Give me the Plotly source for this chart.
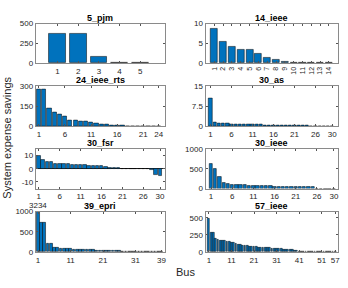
import plotly.graph_objects as go
from plotly.subplots import make_subplots

titles = ["5_pjm", "14_ieee", "24_ieee_rts", "30_as", "30_fsr", "30_ieee", "39_epri", "57_ieee"]

pjm5 = [375, 370, 80, 0, 0]
ieee14 = [8.7, 5.4, 4.2, 3.4, 3.3, 2.4, 1.5, 0.8, 0.3, 0.1, 0, 0, 0, 0]
rts24 = [280, 275, 135, 100, 85, 70, 45, 40, 33, 32, 28, 18, 14, 12, 5, 3, 2, 1,
         0, 0, 0, 0, 0, 0]
as30 = [10.5, 1.3, 1.1, 1.0, 0.9, 0.8, 0.7, 0.7, 0.6, 0.6, 0.55, 0.5, 0.5, 0.45,
        0.45, 0.4, 0.4, 0.35, 0.3, 0.3, 0.25, 0.2, 0.15, 0.1, 0.05, 0, 0, 0, 0, 0]
fsr30 = [10, 6.5, 5.5, 5, 4, 3.5, 3.5, 3.3, 3.2, 3.1, 3, 2.8, 2.5, 2.3, 2.2, 2,
         1.2, 1, 0.8, 0.3, 0.1, 0, 0, 0, 0, 0, 0, -1, -4.5, -5.5]
ieee30 = [620, 490, 290, 140, 130, 100, 95, 90, 85, 80, 75, 72, 70, 68, 60, 55,
          52, 50, 48, 45, 42, 40, 38, 35, 32, 0, 0, 0, 0, 0]
epri39 = [3234, 740, 720, 220, 210, 120, 110, 90, 85, 80, 75, 70, 68, 65, 60, 55,
          50, 48, 45, 42, 40, 38, 35, 32, 30, 25, 20, 15, 10, 5, 0, 0, 0, 0, 0, 0,
          0, 0, 0]
ieee57 = [490, 285, 280, 200, 180, 170, 165, 160, 150, 145, 140, 135, 125, 115,
          105, 95, 90, 88, 85, 80, 75, 72, 70, 68, 65, 62, 60, 57, 55, 52, 50, 48,
          45, 42, 40, 38, 35, 30, 25, 15, 10, 8, 6, 5, 4, 3, 2, 1, 0, 0, 0, 0, 0,
          0, 0, 0, 0]
series = [pjm5, ieee14, rts24, as30, fsr30, ieee30, epri39, ieee57]

xticks = [[1, 2, 3, 4, 5], list(range(1, 15)), [1, 6, 11, 16, 21, 24],
          [1, 6, 11, 16, 21, 26, 30], [1, 6, 11, 16, 21, 26, 30],
          [1, 6, 11, 16, 21, 26, 30], [1, 11, 21, 31, 39], [1, 11, 21, 31, 41, 51, 57]]
yticks = [[0, 250, 500], [0, 5, 10], [0, 150, 300], [0, 7.5, 15], [-10, 0, 10],
          [0, 500, 1000], [0, 500, 1000], [0, 250, 500]]
yticktext = [["0", "250", "500"], ["0", "5", "10"], ["0", "150", "300"],
             ["0", "7.5", "15"], ["-10", "0", "10"], ["0", "500", "1000"],
             ["0", "500", "1000"], ["0", "250", "500"]]
yranges = [[0, 500], [0, 10], [0, 300], [0, 15], [-15, 15], [0, 1000], [0, 1000], [0, 590]]
xranges = [[-0.05, 6.2], [0, 15], [0.4, 25.2], [-0.2, 31.3], [0.3, 31.2],
           [-0.3, 30.9], [0.3, 40.1], [-0.5, 58.1]]

W, H = 348, 288
colx = [(36, 166), (206.7, 339.7)]
rowy = [(20.3, 61), (85, 126), (149.5, 190.5), (214.3, 256)]

FONT = "Liberation Sans, Arial, sans-serif"
fig = make_subplots(rows=4, cols=2)
tickfont = dict(family=FONT, size=8, color="#262626")

for i, (vals, t) in enumerate(zip(series, titles)):
    r, c = i // 2, i % 2
    xs = list(range(1, len(vals) + 1))
    fig.add_trace(go.Bar(x=xs, y=vals, width=0.8,
                         marker=dict(color="#0072BD", line=dict(color="#000000", width=0.5)),
                         showlegend=False, hoverinfo="skip"), row=r + 1, col=c + 1)
    ax = "" if i == 0 else str(i + 1)
    x0, x1 = colx[c]
    top, bot = rowy[r]
    xf = dict(tickfont)
    if i == 1:
        xf["size"] = 7
    fig.layout["xaxis" + ax].update(
        domain=[x0 / W, x1 / W], range=xranges[i], tickmode="array",
        tickvals=xticks[i], ticktext=[str(v) for v in xticks[i]],
        ticks="inside", ticklen=2, tickcolor="#555", showline=True, linecolor="#8a8a8a",
        linewidth=1, mirror="ticks", showgrid=False, zeroline=False, tickfont=xf,
        tickangle=-90 if i == 1 else 0, ticklabelstandoff=0)
    fig.layout["yaxis" + ax].update(
        domain=[1 - bot / H, 1 - top / H], range=yranges[i], tickmode="array",
        tickvals=yticks[i], ticktext=yticktext[i],
        ticks="inside", ticklen=2, tickcolor="#555", showline=True, linecolor="#8a8a8a",
        linewidth=1, mirror="ticks", showgrid=False, tickfont=tickfont,
        zeroline=(i == 4), zerolinecolor="#262626", zerolinewidth=0.8)
    fig.add_annotation(text="<b>" + t + "</b>", xref="paper", yref="paper",
                       x=(x0 + x1) / 2 / W, y=1 - top / H, xanchor="center",
                       yanchor="bottom", yshift=0, borderpad=0, showarrow=False,
                       font=dict(family=FONT, size=9, color="#000"))

fig.add_annotation(text="3234", xref="x7", yref="paper", x=1, y=1 - 214.3 / H,
                   yanchor="bottom", xanchor="center", showarrow=False, yshift=1,
                   borderpad=0, font=dict(family=FONT, size=8, color="#262626"))
fig.add_annotation(text="System expense savings", xref="paper", yref="paper",
                   x=7 / W, y=1 - 138 / H, xanchor="center", yanchor="middle",
                   textangle=-90, showarrow=False,
                   font=dict(family=FONT, size=11, color="#262626"))
fig.add_annotation(text="Bus", xref="paper", yref="paper",
                   x=187 / W, y=1 - 277 / H, xanchor="center", yanchor="middle",
                   showarrow=False,
                   font=dict(family=FONT, size=11, color="#262626"))

fig.update_layout(width=W, height=H, margin=dict(l=0, r=0, t=0, b=0),
                  plot_bgcolor="white", paper_bgcolor="white", bargap=0)
fig.write_html("out.html", config={"displayModeBar": False},
               post_script="document.body.style.margin='0';document.body.style.overflow='hidden';")
